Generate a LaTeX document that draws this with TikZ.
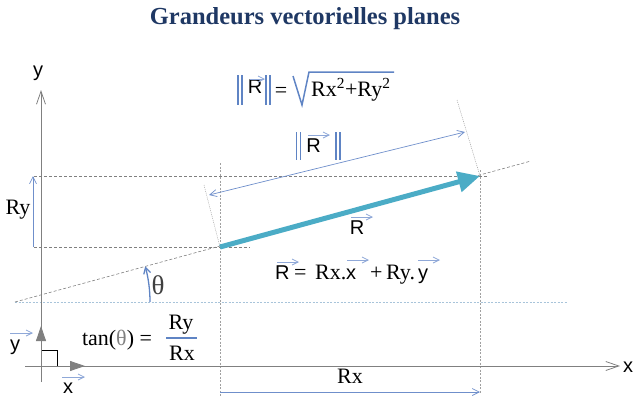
\documentclass[tikz,border=0pt]{standalone}
\usepackage{fontspec}
\setmainfont{Liberation Serif}
\newfontfamily\arialf{Liberation Sans}
\usetikzlibrary{arrows.meta}
\definecolor{teal1}{HTML}{4BACC6}
\definecolor{axgray}{HTML}{808080}
\definecolor{dimblue}{HTML}{6F8FCB}
\definecolor{vecblue}{HTML}{8FA8D8}
\definecolor{barblue}{HTML}{5F84C4}
\definecolor{hblue}{HTML}{A8C4DA}
\definecolor{titleblue}{HTML}{1F3864}
\begin{document}
\begin{tikzpicture}[x=1pt,y=-1pt,
  >={Straight Barb[length=7pt,width=7pt]},
  ser/.style={font=\fontsize{22}{24}\selectfont, inner sep=0pt},
  san/.style={font=\arialf\fontsize{20}{22}\selectfont, inner sep=0pt},
  axisline/.style={draw=axgray, line width=0.8pt, -{Straight Barb[length=13pt,width=9pt]}},
  guide/.style={draw=axgray, line width=0.6pt, dash pattern=on 3pt off 2pt},
  vguide/.style={draw=axgray!75, line width=0.6pt, dash pattern=on 2pt off 1.5pt},
  ext/.style={draw=axgray!75, line width=0.5pt, dash pattern=on 1pt off 1pt},
  hguide/.style={draw=hblue, line width=0.8pt, dash pattern=on 2pt off 1.5pt},
  dimline/.style={draw=dimblue, line width=0.7pt},
  overarr/.style={draw=vecblue, line width=0.8pt, -{Straight Barb[length=6pt,width=6pt]}},
  normbar/.style={draw=barblue, line width=1.4pt},
  unitv/.style={draw=axgray, line width=0.8pt, -{Triangle[length=15pt,width=10pt]}},
]
\useasboundingbox (0,0) rectangle (638,410);

% title
\node[font=\bfseries\fontsize{24.5}{28}\selectfont, text=titleblue, inner sep=0pt] (title) at (305,19) {Grandeurs vectorielles planes};

% key points
\coordinate (O) at (41,366);
\coordinate (A) at (220,247);
\coordinate (B) at (480,176);
\coordinate (L0) at (15,302);
\coordinate (L1) at (531,161);
\coordinate (ybot) at (41,382);
\coordinate (ytop) at (41,90);
\coordinate (xleft) at (25,366);
\coordinate (xright) at (620,366);

% guides
\draw[hguide] (L0) -- (568,302);
\draw[guide] (L0) -- (L1);
\draw[guide] (34,176) -- (487,176);
\draw[guide] (34,247) -- (250,247);
\draw[vguide] (220,163) -- (220,397);
\draw[vguide] (480,170) -- (480,393);
\draw[ext] (204,185) -- (A);
\draw[ext] (457,100) -- (B);

% axes
\draw[axisline] (ybot) -- (ytop);
\draw[axisline] (xleft) -- (xright);
\node[san] (ylab) at (38,73) {y};
\node[san] (xlab) at (628,367) {x};

% unit vectors
\draw[black, line width=0.7pt] (O) rectangle (57,350);
\draw[unitv] (O) -- (85,366);
\draw[unitv] (O) -- (41,326);
\node[san] (uy) at (15,347) {y};
\draw[overarr] (10,333) -- (33,333);
\node[san] (ux) at (68,388) {x};
\draw[overarr] (62,377) -- (85,377);

% dimensions
\draw[dimline,->] (33,247) -- (33,176);
\node[ser] (Rylab) at (18,210) {Ry};
\draw[dimline,->] (220,392) -- (480,392);
\node[ser] (Rxlab) at (350,376) {Rx};
\draw[dimline,<->] (209,195) -- (465,132);

% norm label on the dimension
\draw[normbar] (296.5,132) -- (296.5,160);
\draw[normbar] (300.5,132) -- (300.5,160);
\node[san] (nR) at (313.5,146) {R};
\draw[overarr] (308,135) -- (330,135);
\draw[normbar] (336,132) -- (336,160);
\draw[normbar] (340,132) -- (340,160);

% the vector
\draw[teal1, line width=5pt, -{Triangle[length=22pt,width=20pt]}] (A) -- (B);
\node[san] (Rlab) at (357,228) {R};
\draw[overarr] (351,217) -- (373,217);

% angle
\draw[barblue, line width=1.3pt, -{Straight Barb[length=6pt,width=7pt]}] (150,302) .. controls (150,290) and (148.4,278) .. (145.2,266.4);
\node[font=\fontsize{27}{29}\selectfont, inner sep=0pt, text=black!75] (th) at (158,285) {θ};

% tan formula
\node[ser] (tan) at (117,340) {tan(\textcolor{axgray}{θ}) =};
\node[ser] (fRy) at (181,325) {Ry};
\node[ser] (fRx) at (182,353) {Rx};
\draw[barblue, line width=1.3pt] (166,338) -- (197,338);

% top formula
\draw[normbar] (238,75) -- (238,105);
\draw[normbar] (242,75) -- (242,105);
\node[san] (tR) at (255,87) {R};
\draw[overarr] (250,79) -- (265,79);
\draw[normbar] (266,75) -- (266,105);
\draw[normbar] (270,75) -- (270,105);
\node[ser] (teq) at (281,92) {=};
\draw[barblue, line width=1.5pt, line join=miter] (293,76) -- (302,105) -- (309,72) -- (394,72);
\node[ser, anchor=base west] (trad) at (311,96) {Rx\textsuperscript{2}+Ry\textsuperscript{2}};

% equation R = Rx.x + Ry.y
\node[san, anchor=base west] (eR) at (275,279) {R};
\draw[overarr] (277,262) -- (299,262);
\node[ser, anchor=base west] (eEq) at (294,279) {=};
\node[ser, anchor=base west] (eRx) at (315,279) {Rx.};
\node[san, anchor=base west] (ex) at (346,279) {x};
\draw[overarr] (347,260) -- (369,260);
\node[ser, anchor=base west] (ePlus) at (370,279) {+};
\node[ser, anchor=base west] (eRy) at (386,279) {Ry.};
\node[san, anchor=base west] (ey) at (418,279) {y};
\draw[overarr] (418,260) -- (440,260);
\end{tikzpicture}
\end{document}
